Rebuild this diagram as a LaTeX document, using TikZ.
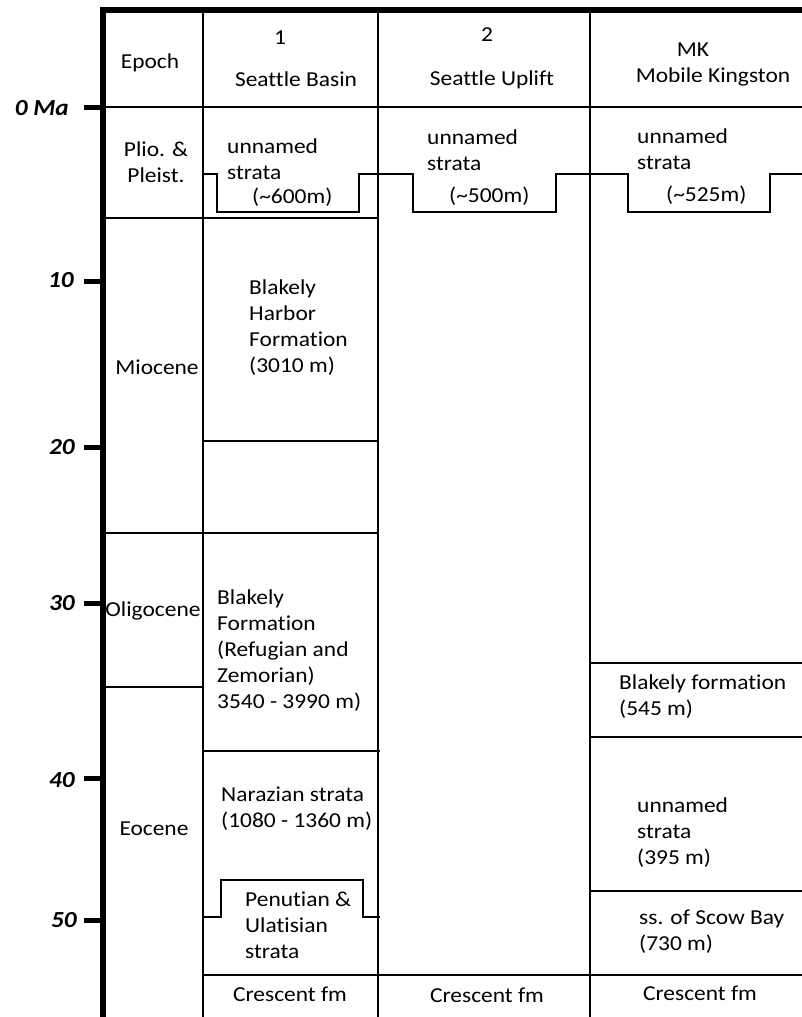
\documentclass[tikz,border=0pt]{standalone}
\usepackage{fontspec}
\setmainfont{Carlito}[FakeStretch=1.1,Ligatures=NoCommon]
\begin{document}
\begin{tikzpicture}[x=1pt,y=-1pt,
  rule/.style={line width=1.4pt},
  frame/.style={line width=6pt},
  tick/.style={line width=5pt},
  txt/.style={inner sep=0pt,anchor=base west,align=left,font=\fontsize{21.3}{26}\selectfont},
  mid/.style={txt,anchor=base,align=center},
  age/.style={inner sep=0pt,anchor=base east,font=\fontsize{23}{26}\selectfont\bfseries\itshape}]
  \useasboundingbox (0,0) rectangle (802,1017);
  \draw[frame] (103,1017)--(103,9.5)--(802,9.5);
  \foreach \y/\b/\r/\t [count=\i] in {107/115/69/0 Ma,281/287/74/10,447/454/75/20,603/610/75/30,778/787/75/40,920/927/77/50}{
    \draw[tick] (84,\y)--(103,\y);
    \node[age] (age\i) at (\r,\b) {\t};
  }
  \draw[rule] (203,9.5)--(203,1017) (378,9.5)--(378,1017) (590,9.5)--(590,1017);
  \draw[rule] (103,107)--(802,107);
  \draw[rule] (103,218)--(378,218);
  \draw[rule] (203,441)--(378,441);
  \draw[rule] (103,533)--(378,533);
  \draw[rule] (103,687)--(203,687);
  \draw[rule] (203,751)--(380,751);
  \draw[rule] (590,663)--(802,663) (590,737)--(802,737) (590,891)--(802,891);
  \draw[rule] (203,975)--(802,975);
  \draw[rule] (203,174)--(217,174)--(217,212)--(359,212)--(359,174)--(413,174)--(413,212)
    --(556,212)--(556,174)--(628,174)--(628,212)--(770,212)--(770,174)--(802,174);
  \draw[rule] (203,917)--(221,917)--(221,880)--(363,880)--(363,917)--(380,917);
  \node[mid] (epoch) at (150,68) {Epoch};
  \node[mid] (num1) at (280,44) {1};
  \node[mid] (basin) at (296,86) {Seattle Basin};
  \node[mid] (num2) at (487,41) {2};
  \node[mid] (uplift) at (492,85) {Seattle Uplift};
  \node[mid] (mk) at (693,56) {MK};
  \node[mid] (kingston) at (713,82) {Mobile Kingston};
  \node[mid] (plio) at (156,182) {Plio. \&\\Pleist.};
  \node[mid] (miocene) at (157,374) {Miocene};
  \node[mid] (oligocene) at (153,616) {Oligocene};
  \node[mid] (eocene) at (154,835) {Eocene};
  \node[txt] (sbtop) at (227,179) {unnamed\\strata};
  \node[txt] (sbtopm) at (252,203) {(\textasciitilde600m)};
  \node[txt] (harbor) at (249,372) {Blakely\\Harbor\\Formation\\(3010 m)};
  \node[txt] (blakely) at (217,708) {Blakely\\Formation\\(Refugian and\\Zemorian)\\3540 - 3990 m)};
  \node[txt] (narazian) at (221,827) {Narazian strata\\(1080 - 1360 m)};
  \node[txt] (penutian) at (245,958) {Penutian \&\\Ulatisian\\strata};
  \node[mid] (sbcrescent) at (290,1001) {Crescent fm};
  \node[txt] (sutop) at (427,170) {unnamed\\strata};
  \node[txt] (sutopm) at (449,202) {(\textasciitilde500m)};
  \node[mid] (sucrescent) at (487,1002) {Crescent fm};
  \node[txt] (mktop) at (637,169) {unnamed\\strata};
  \node[txt] (mktopm) at (666,201) {(\textasciitilde525m)};
  \node[txt] (mkblakely) at (619,715) {Blakely formation\\(545 m)};
  \node[txt] (mkunnamed) at (637,864) {unnamed\\strata\\(395 m)};
  \node[txt] (scow) at (639,950) {ss. of Scow Bay\\(730 m)};
  \node[mid] (mkcrescent) at (700,1000) {Crescent fm};
\end{tikzpicture}
\end{document}
